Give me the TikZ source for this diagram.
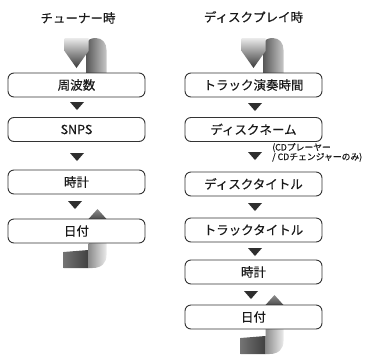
\documentclass[tikz,border=0pt]{standalone}
\usepackage{fontspec}
\setmainfont{Noto Sans CJK JP}[FakeBold=0.35]
\usetikzlibrary{calc}
\begin{document}
\begin{tikzpicture}[x=1pt,y=-1pt,
  box/.style={draw=black!80, fill=white, line width=0.9pt, rounded corners=6pt,
    minimum width=137pt, minimum height=24pt, inner sep=0pt,
    font=\fontsize{12.5}{14}\selectfont, text=black!90},
  title/.style={font=\fontsize{12.5}{14}\selectfont, text=black!90, inner sep=0pt},
  note/.style={font=\fontsize{8.8}{9.5}\selectfont, text=black!90, inner sep=0pt, align=left, anchor=north west},
]
\useasboundingbox (0,0) rectangle (372,354);

% ---------- ribbon pieces ----------
\newcommand\topribbon[2]{% #1 = centre x, #2 = box top y
  \begin{scope}[shift={(#1,0)}]
    \shade[left color=black!65, right color=black!22]
      (10,#2) -- (10,46) .. controls (10,40) and (14,38) .. (19,38)
      .. controls (26,38) and (30,43) .. (30,50) -- (30,#2) -- cycle;
    \shade[top color=black!8, bottom color=black!78]
      (-12,38) -- (12,38) -- (12,51) -- (0,68) -- (-12,51) -- cycle;
  \end{scope}}
\newcommand\bottomribbon[3]{% #1 = centre x, #2 = box bottom y, #3 = box top y
  \begin{scope}[shift={(#1,#2)}]
    \shade[left color=black!55, right color=black!75]
      (-13,9) -- (12,7) -- (12,25) -- (-13,25) -- cycle;
    \shade[left color=black!45, right color=black!8]
      (12,0) -- (30,0) -- (30,12) .. controls (30,20) and (25,25) .. (16,25) -- (12,25) -- cycle;
  \end{scope}
  \shade[top color=black!45, bottom color=black!70]
    ($(#1,#3)+(12,0)$) -- ($(#1,#3)+(21,-10)$) -- ($(#1,#3)+(30,0)$) -- cycle;}
\newcommand\downtri[2]{\fill[black!82] (#1-7,#2) -- (#1+7,#2) -- (#1,#2+8) -- cycle;}

% ---------- left column ----------
\node[title] (tl) at (78,18) {チューナー時};
\topribbon{76.5}{73}
\bottomribbon{76.5}{243}{219}
\node[box] (l1) at (76.5,85)  {周波数};
\node[box] (l2) at (76.5,129.5) {SNPS};
\node[box] (l3) at (76.5,182) {時計};
\node[box] (l4) at (76.5,231) {日付};
\downtri{77}{102}
\downtri{77}{153}
\downtri{75}{201}

% ---------- right column ----------
\node[title] (tr) at (253.5,17) {ディスクプレイ時};
\topribbon{253.5}{73}
\bottomribbon{253.5}{329}{305}
\node[box] (r1) at (253.5,85)  {トラック演奏時間};
\node[box] (r2) at (253.5,129.5) {ディスクネーム};
\node[box] (r3) at (253.5,184) {ディスクタイトル};
\node[box] (r4) at (253.5,230) {トラックタイトル};
\node[box] (r5) at (253.5,272) {時計};
\node[box] (r6) at (253.5,317) {日付};
\downtri{255}{103}
\downtri{255}{152}
\downtri{255}{203}
\downtri{255}{248}
\downtri{251}{291}
\node[note] (nt) at (272,143) {(CDプレーヤー\\/ CDチェンジャーのみ)};
\end{tikzpicture}
\end{document}
